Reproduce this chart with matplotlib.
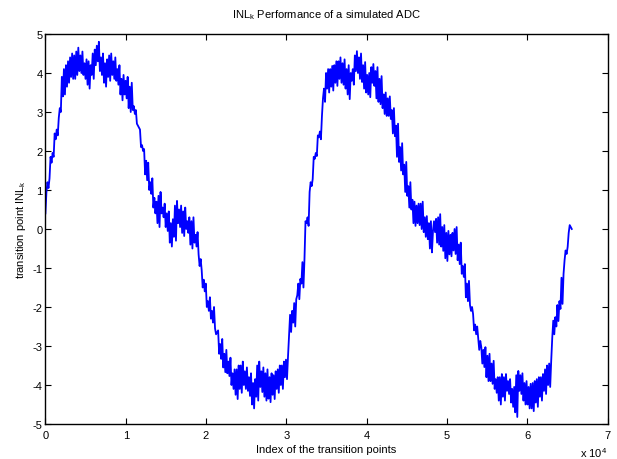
# INL_k curve of a simulated ADC

import numpy as np
import matplotlib
matplotlib.use('Agg')
import matplotlib.pyplot as plt

plt.rcParams['font.family'] = ['Liberation Sans', 'DejaVu Sans']
plt.rcParams['axes.unicode_minus'] = False

# transition point index step (one value every 128 codes)
step = 128

# INL_k (in LSB), swinging across the noise band
inl = [
    0.40, 0.95, 1.20, 1.05, 1.30, 1.85, 1.70, 1.95, 1.85, 2.45, 2.30, 2.55, 2.40, 2.85, 3.10, 3.00,
    3.90, 3.40, 4.10, 3.45, 4.20, 3.65, 4.30, 3.75, 4.40, 3.90, 4.50, 3.85, 4.45, 3.85, 4.55, 3.95,
    4.65, 4.05, 4.45, 4.00, 4.55, 3.95, 4.25, 3.85, 4.35, 3.70, 4.30, 3.60, 4.20, 3.95, 4.50, 3.85,
    4.60, 4.20, 4.70, 4.30, 4.80, 4.05, 4.40, 3.95, 4.50, 3.75, 4.25, 3.65, 4.35, 3.90, 4.45, 3.80,
    4.50, 3.95, 4.30, 3.85, 4.40, 3.80, 4.10, 3.70, 4.20, 3.45, 3.85, 3.30, 3.95, 3.45, 3.80, 3.35,
    3.90, 3.10, 3.65, 3.00, 3.75, 3.05, 3.15, 2.95, 3.05, 2.70, 2.65, 2.60, 2.55, 2.10, 2.15, 2.00,
    2.05, 1.40, 1.75, 1.25, 1.70, 1.00, 1.20, 0.90, 1.30, 0.55, 0.80, 0.40, 0.70, 0.15, 0.85, 0.05,
    0.95, 0.40, 0.55, 0.30, 0.65, 0.05, 0.40, -0.05, 0.45, -0.35, 0.15, -0.45, 0.25, -0.20, 0.60, -0.30,
    0.72, 0.15, 0.50, 0.05, 0.60, -0.10, 0.45, -0.18, 0.55, 0.00, 0.20, -0.10, 0.30, -0.40, 0.20, -0.50,
    0.30, -0.35, -0.15, -0.45, -0.08, -0.65, -0.95, -0.77, -1.05, -1.50, -1.30, -1.60, -1.40, -2.00, -1.85, -2.10,
    -1.75, -2.30, -2.10, -2.40, -2.00, -2.55, -2.70, -2.65, -2.60, -3.20, -2.95, -3.33, -2.82, -3.55, -3.20, -3.67,
    -3.10, -3.70, -3.40, -3.77, -3.30, -4.00, -3.70, -4.10, -3.60, -4.25, -3.60, -4.36, -3.50, -4.10, -3.50, -4.20,
    -3.40, -4.00, -3.65, -4.10, -3.55, -4.15, -3.80, -4.28, -3.70, -4.50, -3.95, -4.60, -3.85, -4.30, -3.50, -4.40,
    -3.40, -4.05, -3.65, -4.18, -3.55, -4.30, -3.70, -4.40, -3.60, -4.35, -3.80, -4.44, -3.70, -4.25, -3.75, -4.36,
    -3.65, -4.10, -3.60, -4.20, -3.50, -4.00, -3.50, -4.10, -3.40, -3.80, -3.35, -3.85, -3.26, -2.75, -2.20, -2.64,
    -2.10, -2.40, -1.90, -2.50, -1.80, -1.70, -1.40, -1.80, -1.28, -1.40, -0.85, -1.50, -0.77, 0.20, 0.15, 0.30,
    0.08, 0.95, 1.20, 1.10, 1.28, 1.85, 1.80, 1.95, 1.87, 2.40, 2.35, 2.50, 2.30, 2.90, 3.35, 3.60,
    3.26, 4.00, 3.60, 4.10, 3.50, 4.10, 3.65, 4.18, 3.55, 4.20, 3.75, 4.30, 3.67, 4.30, 3.85, 4.40,
    3.75, 4.25, 3.70, 4.35, 3.60, 4.10, 3.45, 4.20, 3.33, 4.00, 3.80, 4.10, 3.70, 4.45, 4.05, 4.56,
    4.00, 4.40, 3.85, 4.50, 3.77, 4.20, 3.60, 4.28, 3.50, 3.95, 3.45, 4.00, 3.38, 4.15, 3.75, 4.23,
    3.67, 4.05, 3.35, 4.15, 3.26, 3.85, 3.20, 3.92, 3.10, 3.45, 2.95, 3.50, 2.90, 3.35, 2.90, 3.40,
    2.82, 3.05, 2.45, 3.10, 2.38, 2.65, 1.85, 2.70, 1.72, 2.10, 1.50, 2.20, 1.40, 1.65, 0.95, 1.72,
    0.85, 1.10, 0.55, 1.20, 0.50, 0.75, 0.15, 0.70, 0.08, 0.60, 0.15, 0.65, 0.10, 0.65, 0.00, 0.70,
    -0.08, 0.30, -0.20, 0.33, -0.26, 0.15, -0.50, 0.20, -0.60, -0.05, 0.20, -0.08, 0.26, -0.35, 0.30, -0.40,
    0.38, -0.45, 0.05, -0.56, 0.10, -0.75, -0.10, -0.82, -0.05, -0.65, -0.15, -0.70, -0.10, -0.55, 0.00, -0.64,
    0.05, -0.80, -0.40, -0.90, -0.35, -1.15, -0.95, -1.23, -0.90, -1.75, -1.40, -1.85, -1.33, -1.95, -2.10, -2.00,
    -2.18, -2.60, -2.45, -2.70, -2.50, -2.80, -3.10, -2.87, -3.03, -3.45, -3.10, -3.54, -3.03, -3.80, -3.25, -3.90,
    -3.20, -3.90, -3.45, -3.97, -3.38, -4.10, -3.85, -4.20, -3.80, -4.40, -3.80, -4.50, -3.72, -4.30, -3.80, -4.40,
    -3.72, -4.15, -3.90, -4.23, -3.85, -4.45, -4.10, -4.56, -4.05, -4.70, -3.75, -4.82, -3.64, -4.15, -3.75, -4.23,
    -3.70, -4.40, -3.95, -4.50, -3.90, -4.50, -4.05, -4.60, -3.97, -4.60, -3.95, -4.67, -3.90, -4.45, -3.85, -4.56,
    -3.80, -4.30, -3.80, -4.40, -3.72, -4.15, -3.60, -4.23, -3.50, -4.00, -3.45, -4.05, -3.38, -2.80, -2.35, -2.70,
    -2.26, -2.50, -1.95, -2.36, -1.85, -2.05, -1.25, -1.92, -1.15, -0.80, -0.55, -0.64, -0.46, -0.10, 0.10, 0.05,
    0.00,
]
idx = np.arange(len(inl)) * step

x_ticks = [0, 10000, 20000, 30000, 40000, 50000, 60000, 70000]
x_tick_labels = ['0', '1', '2', '3', '4', '5', '6', '7']
y_ticks = [-5, -4, -3, -2, -1, 0, 1, 2, 3, 4, 5]

fig = plt.figure(figsize=(6.17, 4.6), dpi=100)
ax = fig.add_axes([0.0736, 0.0761, 0.9112, 0.8478])

ax.plot(idx, inl, color='#0000ff', linewidth=1.3)

ax.set_xlim(0, 70000)
ax.set_ylim(-5, 5)
ax.set_xticks(x_ticks)
ax.set_xticklabels(x_tick_labels)
ax.set_yticks(y_ticks)
ax.tick_params(direction='in', length=4, width=0.8, top=True, right=True,
               labelsize=8, pad=2)
ax.tick_params(axis='x', pad=4)
for s in ax.spines.values():
    s.set_linewidth(1.0)

ax.set_title('INL$_\\mathregular{k}$ Performance of a simulated ADC', fontsize=8, pad=12)
ax.set_xlabel('Index of the transition points', fontsize=8, labelpad=3)
ax.set_ylabel('transition point INL$_\\mathregular{k}$', fontsize=8, labelpad=3)
fig.text(0.962, 0.0, 'x 10$^\\mathregular{4}$', fontsize=8, ha='center', va='bottom')

fig.savefig('out.png', dpi=100)
